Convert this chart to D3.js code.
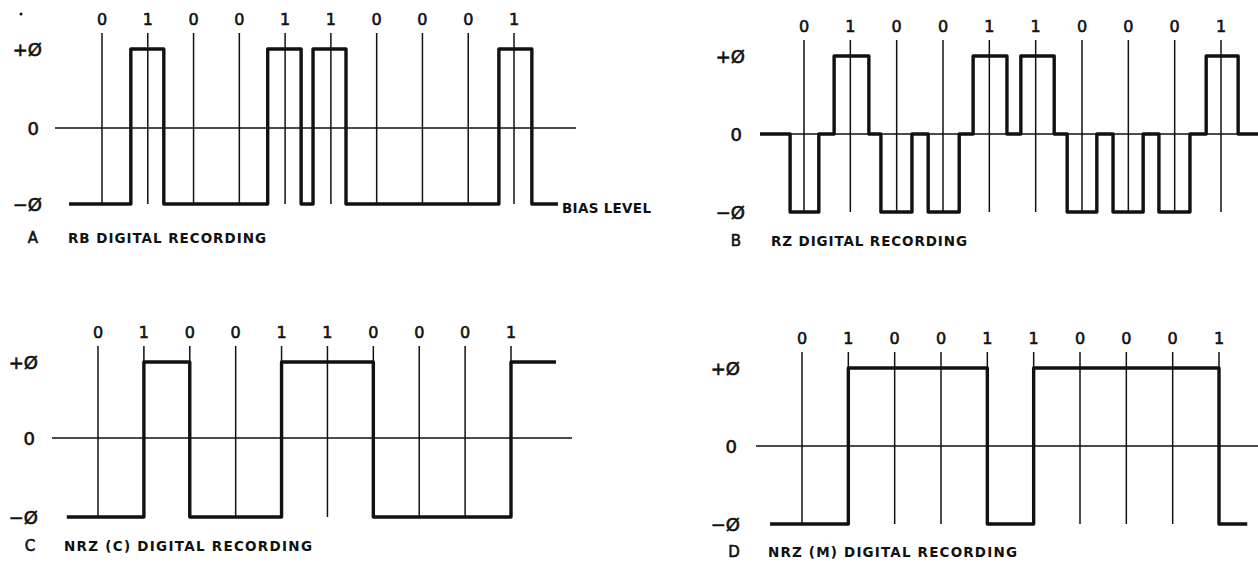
<!DOCTYPE html>
<html>
<head>
<meta charset="utf-8">
<script src="https://d3js.org/d3.v7.min.js"></script>
<style>
  body { margin: 0; background: #fff; }
  svg { display: block; }
  text { font-family: "DejaVu Sans", sans-serif; fill: #111; }
  text.med { stroke: #111; stroke-width: 0.6px; }
</style>
</head>
<body>
<svg id="chart" width="1258" height="562"></svg>
<script>
// bit pattern written above every trace
var BITS = ["0", "1", "0", "0", "1", "1", "0", "0", "0", "1"];

// level ticks on the left of each trace
var LEVELS = [1, 0, -1];
var LEVEL_LABELS = ["+Ø", "0", "−Ø"];

// waveforms as [position in bit units (bit i centre = i), level] step points
var rbWave = [[-0.72, -1], [0.63, 1], [1.35, -1], [3.62, 1], [4.35, -1], [4.61, 1], [5.33, -1], [8.67, 1], [9.39, -1], [9.96, -1]];
var rzWave = [[-0.95, 0], [-0.30, -1], [0.32, 0], [0.65, 1], [1.40, 0], [1.66, -1], [2.33, 0], [2.68, -1], [3.35, 0],
              [3.65, 1], [4.38, 0], [4.68, 1], [5.40, 0], [5.68, -1], [6.32, 0], [6.67, -1], [7.32, 0], [7.66, -1],
              [8.33, 0], [8.68, 1], [9.37, 0], [9.85, 0]];
var nrzcWave = [[-0.68, -1], [1, 1], [2, -1], [4, 1], [6, -1], [9, 1], [9.98, 1]];
var nrzmWave = [[-0.69, -1], [1, 1], [4, -1], [5, 1], [9, -1], [9.61, -1]];

var PANEL_LETTERS = ["A", "B", "C", "D"];
var PANEL_TITLES = ["RB DIGITAL RECORDING", "RZ DIGITAL RECORDING", "NRZ (C) DIGITAL RECORDING", "NRZ (M) DIGITAL RECORDING"];

// where each panel sits on the page (pixels)
var layout = [
  { wave: rbWave,   bit0: 102, bit9: 514,  top: 49,  mid: 128, bot: 204, zero: [55, 576],   lab: 42,  letter: [33, 238],  title: [68, 266, 238] },
  { wave: rzWave,   bit0: 804, bit9: 1221, top: 56,  mid: 134, bot: 212, zero: [760, 1258], lab: 745, letter: [736, 241], title: [771, 967, 241] },
  { wave: nrzcWave, bit0: 98,  bit9: 511,  top: 362, mid: 438, bot: 517, zero: [52, 572],   lab: 38,  letter: [30, 546],  title: [64, 312, 546] },
  { wave: nrzmWave, bit0: 802, bit9: 1219, top: 368, mid: 446, bot: 524, zero: [756, 1258], lab: 740, letter: [734, 552], title: [768, 1017, 552] }
];

var svg = d3.select("#chart");

layout.forEach(function(p, k) {
    var x = d3.scaleLinear().domain([0, BITS.length - 1]).range([p.bit0, p.bit9]);
    var y = d3.scaleLinear().domain([-1, 0, 1]).range([p.bot, p.mid, p.top]);
    var g = svg.append("g").attr("class", "panel");

    // thin zero line
    g.append("line")
        .attr("x1", p.zero[0]).attr("x2", p.zero[1])
        .attr("y1", y(0)).attr("y2", y(0))
        .attr("stroke", "#111").attr("stroke-width", 1.5);

    // bit cell lines + bit labels
    g.selectAll("line.bit")
        .data(BITS)
        .enter()
        .append("line")
        .attr("class", "bit")
        .attr("x1", function(d, i) { return x(i); })
        .attr("x2", function(d, i) { return x(i); })
        .attr("y1", y(1) - 16)
        .attr("y2", y(-1))
        .attr("stroke", "#111").attr("stroke-width", 1.5);

    g.selectAll("text.bit")
        .data(BITS)
        .enter()
        .append("text")
        .attr("class", "bit med")
        .attr("x", function(d, i) { return x(i); })
        .attr("y", y(1) - 30)
        .attr("text-anchor", "middle")
        .attr("dominant-baseline", "central")
        .attr("font-size", 16)
        .text(function(d) { return d; });

    // waveform
    var line = d3.line()
        .x(function(d) { return x(d[0]); })
        .y(function(d) { return y(d[1]); })
        .curve(d3.curveStepAfter);
    g.append("path")
        .attr("d", line(p.wave))
        .attr("fill", "none")
        .attr("stroke", "#111")
        .attr("stroke-width", 3.4)
        .attr("stroke-linejoin", "round");

    // level labels
    g.selectAll("text.level")
        .data(LEVELS)
        .enter()
        .append("text")
        .attr("class", "level med")
        .attr("x", function(d) { return d === 0 ? p.lab - 3 : p.lab; })
        .attr("y", function(d) { return y(d); })
        .attr("text-anchor", "end")
        .attr("dominant-baseline", "central")
        .attr("font-size", 18)
        .text(function(d, i) { return LEVEL_LABELS[i]; });

    // caption
    g.append("text")
        .attr("class", "med")
        .attr("x", p.letter[0]).attr("y", p.letter[1])
        .attr("text-anchor", "middle")
        .attr("dominant-baseline", "central")
        .attr("font-size", 15)
        .text(PANEL_LETTERS[k]);
    g.append("text")
        .attr("x", p.title[0]).attr("y", p.title[2])
        .attr("dominant-baseline", "central")
        .attr("font-size", 13.5)
        .attr("font-weight", "bold")
        .attr("textLength", p.title[1] - p.title[0])
        .attr("lengthAdjust", "spacing")
        .text(PANEL_TITLES[k]);
});

// bias level note on trace A
svg.append("text")
    .attr("x", 562).attr("y", 208)
    .attr("dominant-baseline", "central")
    .attr("font-size", 13.5)
    .attr("font-weight", "bold")
    .attr("textLength", 89)
    .attr("lengthAdjust", "spacing")
    .text("BIAS LEVEL");

// stray mark from the scan, top left
svg.append("circle").attr("cx", 21).attr("cy", 14).attr("r", 1.5).attr("fill", "#111");
</script>
</body>
</html>
